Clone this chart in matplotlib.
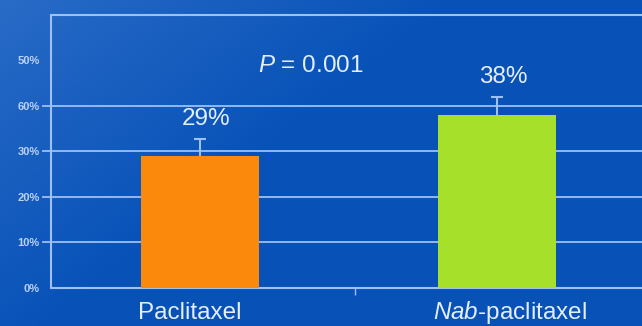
import numpy as np
import matplotlib.pyplot as plt

plt.rcParams['font.family'] = ['Liberation Sans', 'DejaVu Sans']
plt.rcParams['mathtext.fontset'] = 'custom'
plt.rcParams['mathtext.it'] = 'Liberation Sans:italic'
plt.rcParams['mathtext.rm'] = 'Liberation Sans'

categories = ['Paclitaxel', 'Nab-paclitaxel']
rates = [29, 38]
errors = [3.7, 4.0]
bar_labels = ['29%', '38%']
ytick_values = [0, 10, 20, 30, 40, 50]
ytick_labels = ['0%', '10%', '20%', '30%', '60%', '50%']
bar_colors = ['#fb8a0c', '#a6e02a']

line_col = '#9ec0f2'
text_col = '#e4eefc'
big = 17.5

fig = plt.figure(figsize=(6.42, 3.26), dpi=100)

# blue backdrop, a bit lighter towards the upper left
bg = fig.add_axes([0, 0, 1, 1], zorder=0)
yy, xx = np.mgrid[0:1:200j, 0:1:400j]
shade = np.clip(1 - (xx * 1.4 + yy * 0.9), 0, 1)
base = np.array([0.03, 0.32, 0.72])
light = np.array([0.16, 0.42, 0.78])
img = base + (light - base) * shade[..., None]
bg.imshow(img, aspect='auto', extent=[0, 1, 0, 1], origin='upper')
bg.axis('off')

ax = fig.add_axes([0.0794, 0.1166, 0.9206, 0.8374], zorder=1)
ax.patch.set_alpha(0)

x = np.arange(len(categories))
ax.bar(x, rates, width=0.395, color=bar_colors, zorder=3)
# upper whiskers only, with a small cap on top
tops = np.array(rates) + np.array(errors)
ax.vlines(x, rates, tops, color=line_col, lw=1.5, zorder=4)
ax.plot(x, tops, ls='none', marker='_', ms=8, mew=1.5, color=line_col, zorder=4)

for xi, top, lab in zip(x, tops, bar_labels):
    ax.text(xi + 0.02, top + 3.05, lab, ha='center', va='baseline',
            color=text_col, fontsize=big)

ax.text(0.374, 47.5, r'$P$ = 0.001', ha='center', va='baseline',
        color=text_col, fontsize=big)

ax.set_xlim(-0.502, 1.488)
ax.set_ylim(0, 60)

# horizontal rules at 10-40 only
for v in [10, 20, 30, 40]:
    ax.axhline(v, color=line_col, lw=1.3, zorder=2, xmin=-0.0135, clip_on=False)

ax.set_yticks(ytick_values)
ax.set_yticklabels(ytick_labels)
ax.tick_params(axis='y', length=0, pad=8, labelsize=8, labelcolor='#bcd2f4')
for t in ax.get_yticklabels():
    t.set_fontweight('bold')

ax.set_xticks([0.52])
ax.set_xticklabels([''])
ax.tick_params(axis='x', length=5, width=1, color=line_col, direction='out')

label_pos = [-0.034, 1.044]
names = ['Paclitaxel', r'$Nab$-paclitaxel']
for xp, name in zip(label_pos, names):
    ax.text(xp, -6.9, name, ha='center', va='baseline', color=text_col,
            fontsize=big)

for side in ['left', 'top', 'bottom']:
    ax.spines[side].set_color(line_col)
    ax.spines[side].set_linewidth(1.5)
ax.spines['right'].set_visible(False)

fig.savefig('out.png', dpi=100)
